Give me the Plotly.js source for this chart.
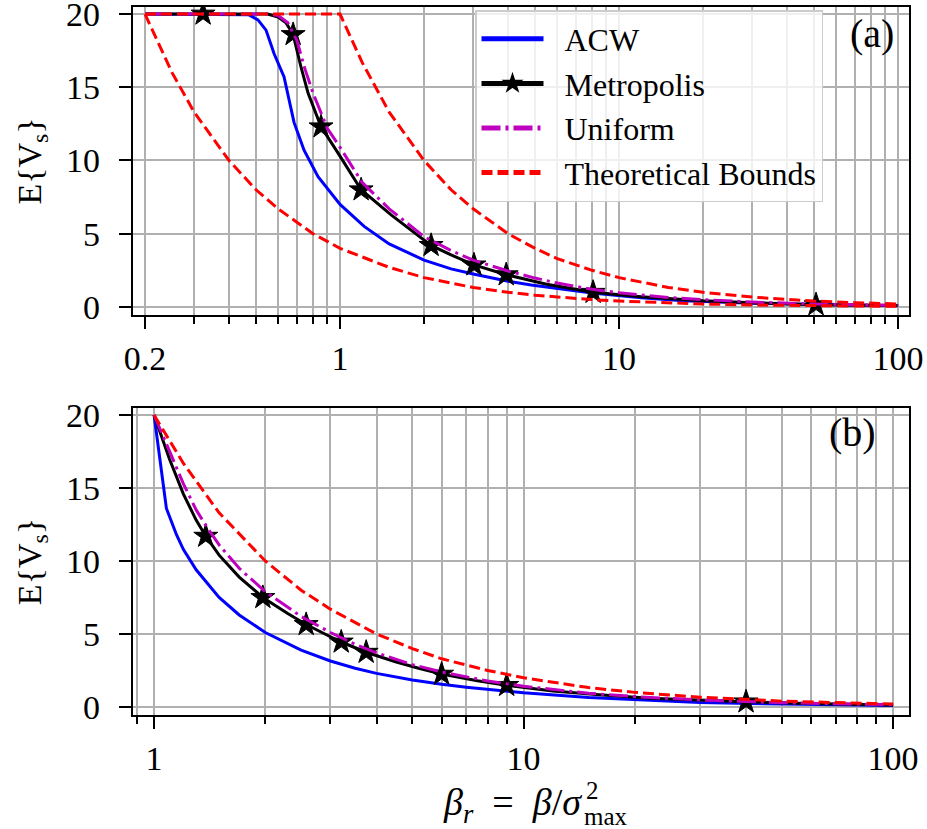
<!DOCTYPE html>
<html><head><meta charset="utf-8">
<script src="https://cdn.plot.ly/plotly-3.0.1.min.js"></script>
<style>html,body{margin:0;padding:0;background:#fff}</style>
</head><body><div id="chart" style="width:927px;height:829px"></div>
<script>
// ---------- panel (a) ----------
const acwTopX = [0.2, 0.3, 0.4, 0.47, 0.508, 0.543, 0.58, 0.63, 0.684, 0.743, 0.834, 1.0, 1.22, 1.5, 2.0, 2.5, 3.0, 4.0, 4.84, 6.0, 8.0, 12, 17, 30, 50, 100];
const acwTopY = [20, 20, 20, 19.95, 19.6, 18.9, 17.3, 15.7, 12.6, 10.7, 8.9, 7.0, 5.5, 4.3, 3.2, 2.6, 2.25, 1.75, 1.5, 1.25, 0.95, 0.62, 0.42, 0.25, 0.16, 0.08];

const metTopX = [0.2, 0.323, 0.45, 0.55, 0.6, 0.64, 0.679, 0.724, 0.768, 0.855, 0.984, 1.19, 1.52, 2.12, 2.5, 3.02, 3.94, 5.5, 8.07, 12, 20, 30, 50.8, 70, 100];
const metTopY = [20, 20, 20, 20, 19.8, 19.4, 18.6, 16.4, 14.6, 12.3, 10.5, 8.0, 6.3, 4.2, 3.55, 2.87, 2.2, 1.55, 1.0, 0.7, 0.42, 0.28, 0.15, 0.12, 0.09];
const metTopStarX = [0.323, 0.679, 0.855, 1.19, 2.12, 3.02, 3.94, 8.07, 50.8];

const uniTopX = [0.2, 0.4, 0.55, 0.6, 0.65, 0.7, 0.75, 0.8, 0.9, 1.0, 1.2, 1.5, 2.0, 2.5, 3.0, 4.0, 5.0, 6.0, 8.0, 10, 15, 20, 30, 50, 70, 100];
const uniTopY = [20, 20, 20, 19.9, 19.4, 18.2, 16.2, 14.6, 12.2, 10.9, 8.5, 6.7, 4.8, 3.85, 3.2, 2.45, 1.97, 1.63, 1.2, 0.97, 0.65, 0.5, 0.33, 0.2, 0.14, 0.1];

const lowTopX = [0.2, 0.25, 0.3, 0.4, 0.5, 0.6, 0.8, 1, 1.5, 2, 3, 4, 5, 6, 8, 10, 15, 20, 30, 50, 70, 100];
const lowTopY = [20, 16, 13.3, 10, 8, 6.7, 5, 4, 2.7, 2, 1.33, 1, 0.8, 0.67, 0.5, 0.4, 0.27, 0.2, 0.13, 0.08, 0.06, 0.04];
const upTopX = [0.2, 0.5, 1, 1.2, 1.5, 2, 2.5, 3, 4, 5, 6, 8, 10, 15, 20, 30, 50, 70, 100];
const upTopY = [20, 20, 20, 16.7, 13.3, 10, 8, 6.7, 5, 4, 3.3, 2.5, 2, 1.33, 1, 0.67, 0.4, 0.29, 0.2];

// ---------- panel (b) ----------
const acwBotX = [1, 1.08, 1.15, 1.2, 1.3, 1.4, 1.5, 1.7, 2, 2.5, 3, 3.5, 4, 5, 6, 7, 8, 10, 15, 20, 30, 50, 70, 100];
const acwBotY = [20, 13.6, 11.8, 10.8, 9.4, 8.4, 7.5, 6.3, 5.1, 3.9, 3.15, 2.65, 2.3, 1.85, 1.55, 1.35, 1.2, 0.97, 0.65, 0.5, 0.3, 0.2, 0.14, 0.1];

const metBotX = [1, 1.1, 1.2, 1.3, 1.38, 1.5, 1.7, 1.97, 2.3, 2.58, 2.9, 3.21, 3.75, 4.5, 5.2, 6.0, 7.5, 9.0, 12, 16, 22, 30, 40, 55, 75, 100];
const metBotY = [20, 17, 14.6, 12.8, 11.7, 10.4, 8.9, 7.5, 6.4, 5.65, 5.0, 4.45, 3.75, 3.1, 2.65, 2.25, 1.8, 1.48, 1.1, 0.83, 0.6, 0.45, 0.35, 0.25, 0.18, 0.13];
const metBotStarX = [1.38, 1.97, 2.58, 3.21, 3.75, 6.0, 9.0, 40];

const uniBotX = [1, 1.1, 1.2, 1.3, 1.4, 1.5, 1.7, 2, 2.5, 3, 3.5, 4, 5, 6, 7, 8, 10, 15, 20, 30, 50, 70, 100];
const uniBotY = [20, 17.5, 15.3, 13.5, 12.2, 11.1, 9.5, 7.9, 6.2, 5.1, 4.3, 3.7, 2.9, 2.4, 2.05, 1.78, 1.42, 0.94, 0.71, 0.48, 0.29, 0.21, 0.15];

const upBotX = [1, 1.2, 1.5, 2, 2.5, 3, 4, 5, 6, 8, 10, 15, 20, 30, 50, 70, 100];
const upBotY = [20, 16.7, 13.3, 10, 8, 6.7, 5, 4, 3.3, 2.5, 2, 1.33, 1, 0.67, 0.4, 0.29, 0.2];

// ---------- ticks & labels ----------
const seriesNames = ['ACW', 'Metropolis', 'Uniform', 'Theoretical Bounds'];
const topTickVals = [0.2, 1, 10, 100];
const topTickText = ['0.2', '1', '10', '100'];
const topMinorVals = [0.3, 0.4, 0.5, 0.6, 0.7, 0.8, 0.9, 2, 3, 4, 5, 6, 7, 8, 9, 20, 30, 40, 50, 60, 70, 80, 90];
const botTickVals = [1, 10, 100];
const botTickText = ['1', '10', '100'];
const botMinorVals = [0.9, 2, 3, 4, 5, 6, 7, 8, 9, 20, 30, 40, 50, 60, 70, 80, 90];
const yTickVals = [0, 5, 10, 15, 20];
const yTickText = ['0', '5', '10', '15', '20'];
const yTitle = 'E{V<sub>s</sub>}';
const panelLabels = ['(a)', '(b)'];

const FONT = '"Liberation Serif", "DejaVu Serif", serif';
const GRID = '#b0b0b0';
const LW = 3;
const PAD = '\u00a0\u00a0';

function starSizes(xs, starXs) { return xs.map(v => starXs.includes(v) ? 18 : 0); }
const starMarker = xs => ({symbol: 'star', color: '#000000', opacity: 1, size: xs, line: {width: 1, color: '#000'}});

const traces = [
  {x: acwTopX, y: acwTopY, xaxis: 'x', yaxis: 'y', mode: 'lines', name: PAD + seriesNames[0],
   line: {color: '#0000ff', width: LW}},
  {x: metTopX, y: metTopY, xaxis: 'x', yaxis: 'y', mode: 'lines+markers', name: PAD + seriesNames[1],
   line: {color: '#000000', width: LW}, marker: starMarker(starSizes(metTopX, metTopStarX))},
  {x: uniTopX, y: uniTopY, xaxis: 'x', yaxis: 'y', mode: 'lines', name: PAD + seriesNames[2],
   line: {color: '#bf00bf', width: LW, dash: '19px,5px,3px,5px'}},
  {x: lowTopX.concat([null], upTopX), y: lowTopY.concat([null], upTopY), xaxis: 'x', yaxis: 'y',
   mode: 'lines', name: PAD + seriesNames[3], connectgaps: false,
   line: {color: '#ff0000', width: LW, dash: '11px,5px'}},

  {x: acwBotX, y: acwBotY, xaxis: 'x2', yaxis: 'y2', mode: 'lines', name: seriesNames[0], showlegend: false,
   line: {color: '#0000ff', width: LW}},
  {x: metBotX, y: metBotY, xaxis: 'x2', yaxis: 'y2', mode: 'lines+markers', name: seriesNames[1], showlegend: false,
   line: {color: '#000000', width: LW}, marker: starMarker(starSizes(metBotX, metBotStarX))},
  {x: uniBotX, y: uniBotY, xaxis: 'x2', yaxis: 'y2', mode: 'lines', name: seriesNames[2], showlegend: false,
   line: {color: '#bf00bf', width: LW, dash: '19px,5px,3px,5px'}},
  {x: upBotX, y: upBotY, xaxis: 'x2', yaxis: 'y2', mode: 'lines', name: seriesNames[3], showlegend: false,
   line: {color: '#ff0000', width: LW, dash: '11px,5px'}}
];

const tickFont = {family: FONT, size: 34, color: '#000'};

function xAxis(range, vals, text, minorVals, anchor) {
  return {
    type: 'log', range: range, anchor: anchor, domain: [0, 1],
    tickmode: 'array', tickvals: vals, ticktext: text,
    ticks: 'outside', ticklen: 12, tickwidth: 2, tickcolor: '#000',
    showgrid: true, gridcolor: GRID, gridwidth: 2,
    minor: {tickmode: 'array', tickvals: minorVals, ticks: 'outside', ticklen: 7, tickwidth: 1.6,
            tickcolor: '#000', showgrid: true, gridcolor: GRID, gridwidth: 2},
    showline: true, linecolor: '#000', linewidth: 2.2, mirror: true,
    zeroline: false, tickfont: tickFont, ticklabelstandoff: 0, ticklabeloverflow: 'allow', automargin: false
  };
}
function yAxis(domain, anchor) {
  return {
    range: [-0.55, 20.48], domain: domain, anchor: anchor,
    tickmode: 'array', tickvals: yTickVals, ticktext: yTickText,
    ticks: 'outside', ticklen: 12, tickwidth: 2, tickcolor: '#000',
    showgrid: true, gridcolor: GRID, gridwidth: 2,
    showline: true, linecolor: '#000', linewidth: 2.2, mirror: true,
    zeroline: false, tickfont: tickFont, ticklabelstandoff: 12, ticklabeloverflow: 'allow', automargin: false,
    title: {text: yTitle, font: {family: FONT, size: 34, color: '#000'}, standoff: 14}
  };
}

const layout = {
  width: 927, height: 829,
  margin: {l: 133, r: 18, t: 7, b: 114},
  paper_bgcolor: '#ffffff', plot_bgcolor: '#ffffff',
  font: {family: FONT, color: '#000'},
  showlegend: true,
  xaxis: xAxis([-0.742, 2.039], topTickVals, topTickText, topMinorVals, 'y'),
  yaxis: yAxis([0.565, 1], 'x'),
  xaxis2: xAxis([-0.057, 2.043], botTickVals, botTickText, botMinorVals, 'y2'),
  yaxis2: yAxis([0, 0.4336], 'x2'),
  legend: {
    x: (823 - 133) / 776, y: 1 - (10 - 7) / 708, xanchor: 'right', yanchor: 'top',
    bgcolor: 'rgba(255,255,255,0.8)', bordercolor: '#cccccc', borderwidth: 1.5,
    font: {family: FONT, size: 32, color: '#000'},
    itemsizing: 'constant', itemwidth: 62, tracegroupgap: 0
  },
  annotations: [
    {text: panelLabels[0], xref: 'paper', yref: 'paper', x: (872 - 133) / 776, y: 1 - (33 - 7) / 708,
     xanchor: 'center', yanchor: 'middle', showarrow: false, font: {family: FONT, size: 40, color: '#000'}},
    {text: panelLabels[1], xref: 'paper', yref: 'paper', x: (852 - 133) / 776, y: 1 - (433 - 7) / 708,
     xanchor: 'center', yanchor: 'middle', showarrow: false, font: {family: FONT, size: 40, color: '#000'}},
    {text: '<i>β</i><sub><i>r</i></sub>\u00a0 = \u00a0<i>β</i>/<i>σ</i>', xref: 'paper', yref: 'paper',
     x: (584 - 133) / 776, y: 1 - (805 - 7) / 708, xanchor: 'right', yanchor: 'middle', showarrow: false,
     font: {family: FONT, size: 38, color: '#000'}},
    {text: '2', xref: 'paper', yref: 'paper',
     x: (584 - 133) / 776, y: 1 - (790 - 7) / 708, xanchor: 'left', yanchor: 'middle', showarrow: false,
     font: {family: FONT, size: 25, color: '#000'}},
    {text: 'max', xref: 'paper', yref: 'paper',
     x: (582 - 133) / 776, y: 1 - (816 - 7) / 708, xanchor: 'left', yanchor: 'middle', showarrow: false,
     font: {family: FONT, size: 25, color: '#000'}}
  ]
};

Plotly.newPlot('chart', traces, layout, {displayModeBar: false, responsive: false});
</script></body></html>
